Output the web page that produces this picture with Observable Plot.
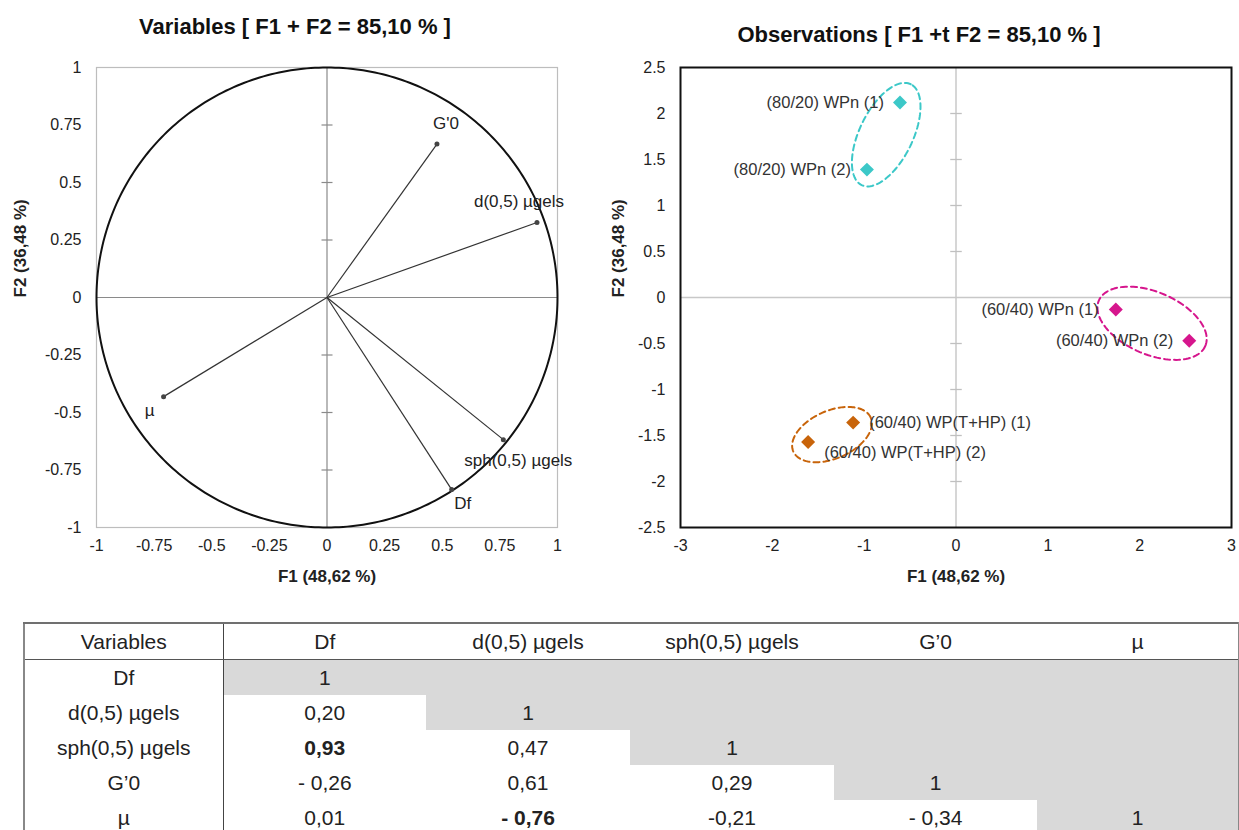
<!DOCTYPE html>
<html>
<head>
<meta charset="utf-8">
<script src="https://cdn.jsdelivr.net/npm/d3@7"></script>
<script src="https://cdn.jsdelivr.net/npm/@observablehq/plot@0.6"></script>
<style>
  html, body { margin: 0; padding: 0; background: #fff; overflow: hidden; }
  #page { position: relative; width: 1239px; height: 830px; font-family: "Liberation Sans", Arial, sans-serif; color: #222; }
  .title { position: absolute; transform: translateX(-50%); font-weight: bold; font-size: 22px; white-space: nowrap; color: #111; }
  .chart { position: absolute; }
  table.corr { position: absolute; left: 23px; top: 622px; width: 1215px; border-collapse: collapse; table-layout: fixed; font-size: 21px; color: #222; }
  table.corr td, table.corr th { height: 35px; padding: 0; text-align: center; vertical-align: middle; font-weight: normal; }
  table.corr thead th { border-top: 2px solid #707070; border-bottom: 1.5px solid #555; height: 35px; }
  table.corr .first { border-right: 1.2px solid #444; }
  table.corr tr > *:first-child { border-left: 2px solid #888; }
  table.corr tr > *:last-child { border-right: 2px solid #888; }
  table.corr td.shade { background: #d9d9d9; }
  table.corr td.b { font-weight: bold; }
</style>
</head>
<body>
<div id="page">
  <div class="title" style="left:295px; top:14px;">Variables [ F1 + F2 = 85,10 % ]</div>
  <div class="title" style="left:919px; top:22px;">Observations [ F1 +t F2 = 85,10 % ]</div>
  <div id="left" class="chart" style="left:0px; top:50px;"></div>
  <div id="right" class="chart" style="left:600px; top:50px;"></div>
</div>
<script>
// ---------- Data: correlation circle (variables) ----------
const varNames = ["G'0", "d(0,5) µgels", "µ", "sph(0,5) µgels", "Df"];
const varF1 = [0.477, 0.911, -0.709, 0.765, 0.541];
const varF2 = [0.667, 0.326, -0.431, -0.618, -0.835];
const varTicks = [-1, -0.75, -0.5, -0.25, 0, 0.25, 0.5, 0.75, 1];

// ---------- Data: observations ----------
const obsNames = ["(80/20) WPn (1)", "(80/20) WPn (2)", "(60/40) WPn (1)", "(60/40) WPn (2)", "(60/40) WP(T+HP) (1)", "(60/40) WP(T+HP) (2)"];
const obsF1 = [-0.61, -0.97, 1.74, 2.54, -1.12, -1.61];
const obsF2 = [2.12, 1.39, -0.13, -0.47, -1.36, -1.57];
const obsGroup = ["80/20 WPn", "80/20 WPn", "60/40 WPn", "60/40 WPn", "60/40 WP(T+HP)", "60/40 WP(T+HP)"];
const obsXTicks = [-3, -2, -1, 0, 1, 2, 3];
const obsYTicks = [-2.5, -2, -1.5, -1, -0.5, 0, 0.5, 1, 1.5, 2, 2.5];

// group ellipses (center, semi-axes in F units, rotation in degrees)
const ellGroup = ["80/20 WPn", "60/40 WPn", "60/40 WP(T+HP)"];
const ellCX = [-0.76, 2.135, -1.35];
const ellCY = [1.77, -0.28, -1.49];
const ellA = [0.61, 0.63, 0.46];
const ellB = [0.29, 0.34, 0.26];
const ellAngle = [64, -23, 23.5];

// ---------- Data: correlation table ----------
const tableHeader = ["Variables", "Df", "d(0,5) µgels", "sph(0,5) µgels", "G’0", "µ"];
const tableVars = ["Df", "d(0,5) µgels", "sph(0,5) µgels", "G’0", "µ"];
const corrValues = [
  [],
  ["0,20"],
  ["0,93", "0,47"],
  ["- 0,26", "0,61", "0,29"],
  ["0,01", "- 0,76", "-0,21", "- 0,34"]
];
const boldCells = [[2, 0], [4, 1]];

// ---------- Styles ----------
const groupColors = ["#3cc8c8", "#d6168d", "#c8640a"];
const varLabelStyle = [
  {dx: 9, dy: -21, anchor: "middle"},
  {dx: -18, dy: -21, anchor: "middle"},
  {dx: -14, dy: 14, anchor: "middle"},
  {dx: 15, dy: 21, anchor: "middle"},
  {dx: 11, dy: 14, anchor: "middle"}
];
const obsLabelStyle = [
  {dx: -16, dy: 0, anchor: "end"},
  {dx: -16, dy: 0, anchor: "end"},
  {dx: -17, dy: 0, anchor: "end"},
  {dx: -16, dy: 0, anchor: "end"},
  {dx: 16, dy: 0, anchor: "start"},
  {dx: 16, dy: 11, anchor: "start"}
];
const fontFamily = "'Liberation Sans', Arial, sans-serif";

// horizontal tick symbol for the axes drawn through the origin
const hTick = { draw(ctx, size) { const w = Math.sqrt(size); ctx.moveTo(-w / 2, 0); ctx.lineTo(w / 2, 0); } };
const fmt = d => String(d);

// ---------- Left chart ----------
const vars = varNames.map((n, i) => ({name: n, f1: varF1[i], f2: varF2[i], ...varLabelStyle[i]}));
const circle = d3.range(0, 361, 1).map(a => ({x: Math.cos(a * Math.PI / 180), y: Math.sin(a * Math.PI / 180)}));

const left = Plot.plot({
  width: 600, height: 550,
  marginLeft: 96, marginRight: 43, marginTop: 17, marginBottom: 73,
  style: {fontFamily, fontSize: "16px", color: "#222", background: "transparent"},
  x: {domain: [-1, 1]},
  y: {domain: [-1, 1]},
  marks: [
    Plot.axisX(varTicks, {tickFormat: fmt, tickSize: 0, tickPadding: 12, fontSize: 16, label: null, fill: "#222"}),
    Plot.axisY(varTicks, {tickFormat: fmt, tickSize: 0, tickPadding: 15, fontSize: 16, label: null, fill: "#222"}),
    Plot.frame({stroke: "#bdbdbd", strokeWidth: 1.2}),
    Plot.ruleX([0], {stroke: "#8a8a8a", strokeWidth: 1.2}),
    Plot.ruleY([0], {stroke: "#8a8a8a", strokeWidth: 1.2}),
    Plot.dot(varTicks.filter(d => d !== 0 && Math.abs(d) !== 1), {x: () => 0, y: d => d, symbol: hTick, r: 6.2, stroke: "#8a8a8a", strokeWidth: 1.2}),
    Plot.line(circle, {x: "x", y: "y", stroke: "#111", strokeWidth: 2}),
    Plot.link(vars, {x1: () => 0, y1: () => 0, x2: "f1", y2: "f2", stroke: "#333", strokeWidth: 1.2}),
    Plot.dot(vars, {x: "f1", y: "f2", r: 2.5, fill: "#444"}),
    ...vars.map(v => Plot.text([v], {x: "f1", y: "f2", text: "name", dx: v.dx, dy: v.dy, textAnchor: v.anchor, fontSize: 17, fill: "#222"})),
    Plot.text(["F1 (48,62 %)"], {frameAnchor: "bottom", text: d => d, dy: 54, fontWeight: "bold", fontSize: 17, fill: "#222"}),
    Plot.text(["F2 (36,48 %)"], {frameAnchor: "left", text: d => d, dx: -76, rotate: -90, fontWeight: "bold", fontSize: 17, fill: "#222"})
  ]
});
document.getElementById("left").appendChild(left);

// ---------- Right chart ----------
const obs = obsNames.map((n, i) => ({name: n, f1: obsF1[i], f2: obsF2[i], g: obsGroup[i], ...obsLabelStyle[i]}));
const ellPts = [];
ellGroup.forEach((g, i) => {
  const t = ellAngle[i] * Math.PI / 180;
  for (let a = 0; a <= 360; a += 3) {
    const u = a * Math.PI / 180;
    const ex = ellA[i] * Math.cos(u), ey = ellB[i] * Math.sin(u);
    ellPts.push({g, x: ellCX[i] + ex * Math.cos(t) - ey * Math.sin(t), y: ellCY[i] + ex * Math.sin(t) + ey * Math.cos(t)});
  }
});

const right = Plot.plot({
  width: 639, height: 550,
  marginLeft: 80, marginRight: 8, marginTop: 17, marginBottom: 73,
  style: {fontFamily, fontSize: "16px", color: "#222", background: "transparent"},
  x: {domain: [-3, 3]},
  y: {domain: [-2.5, 2.5]},
  color: {domain: ellGroup, range: groupColors},
  marks: [
    Plot.axisX(obsXTicks, {tickFormat: fmt, tickSize: 0, tickPadding: 12, fontSize: 16, label: null, fill: "#222"}),
    Plot.axisY(obsYTicks, {tickFormat: fmt, tickSize: 0, tickPadding: 15, fontSize: 16, label: null, fill: "#222"}),
    Plot.ruleX([0], {stroke: "#c8c8c8", strokeWidth: 1.5}),
    Plot.ruleY([0], {stroke: "#c8c8c8", strokeWidth: 1.5}),
    Plot.dot(obsYTicks.filter(d => d !== 0 && Math.abs(d) !== 2.5), {x: () => 0, y: d => d, symbol: hTick, r: 6.5, stroke: "#c0c0c0", strokeWidth: 1.3}),
    Plot.frame({stroke: "#111", strokeWidth: 2}),
    Plot.line(ellPts, {x: "x", y: "y", z: "g", stroke: "g", strokeWidth: 2, strokeDasharray: "6,4"}),
    Plot.dot(obs, {x: "f1", y: "f2", fill: "g", symbol: "diamond2", r: 6.3}),
    ...obs.map(o => Plot.text([o], {x: "f1", y: "f2", text: "name", dx: o.dx, dy: o.dy, textAnchor: o.anchor, fontSize: 16.5, fill: "#333"})),
    Plot.text(["F1 (48,62 %)"], {frameAnchor: "bottom", text: d => d, dy: 54, fontWeight: "bold", fontSize: 17, fill: "#222"}),
    Plot.text(["F2 (36,48 %)"], {frameAnchor: "left", text: d => d, dx: -62, rotate: -90, fontWeight: "bold", fontSize: 17, fill: "#222"})
  ]
});
document.getElementById("right").appendChild(right);

// ---------- Correlation table ----------
const colWidths = [199, 203, 204, 204, 203, 202];
const table = d3.select("#page").append("table").attr("class", "corr");
const cg = table.append("colgroup");
colWidths.forEach(w => cg.append("col").style("width", w + "px"));
const hr = table.append("thead").append("tr");
tableHeader.forEach((h, j) => hr.append("th").attr("class", j === 0 ? "first" : null).text(h));
const tb = table.append("tbody");
tableVars.forEach((v, i) => {
  const tr = tb.append("tr");
  tr.append("td").attr("class", "first").text(v);
  tableVars.forEach((_, j) => {
    let text = "", cls = [];
    if (j < i) text = corrValues[i][j];
    else { cls.push("shade"); if (j === i) text = "1"; }
    if (boldCells.some(([r, c]) => r === i && c === j)) cls.push("b");
    tr.append("td").attr("class", cls.join(" ") || null).text(text);
  });
});
</script>
</body>
</html>
